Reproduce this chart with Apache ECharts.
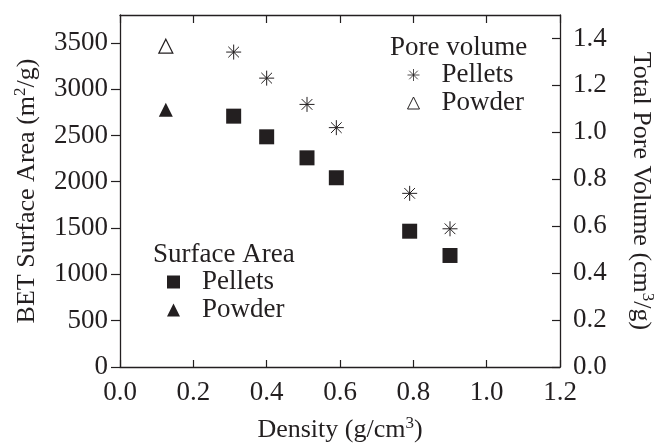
<!DOCTYPE html>
<html>
<head>
<meta charset="utf-8">
<script src="https://cdn.jsdelivr.net/npm/echarts@6/dist/echarts.min.js"></script>
<style>html,body{margin:0;padding:0;background:#fff;}#c{width:658px;height:445px;}</style>
</head>
<body>
<div id="c"></div>
<script>
// ---- data ----
var pelletDensity = [0.31, 0.40, 0.51, 0.59, 0.79, 0.90];
var surfacePellets = [2708, 2485, 2258, 2043, 1466, 1204];
var volumePellets = [1.342, 1.231, 1.119, 1.020, 0.740, 0.589];
var powderDensity = [0.125];
var surfacePowder = [2777];
var volumePowder = [1.367];
var xTicks = [0, 0.2, 0.4, 0.6, 0.8, 1.0, 1.2];
var leftTicks = [0, 500, 1000, 1500, 2000, 2500, 3000, 3500];
var rightTicks = [0, 0.2, 0.4, 0.6, 0.8, 1.0, 1.2, 1.4];

function pairs(xs, ys) { return xs.map(function (x, i) { return [x, ys[i]]; }); }

var INK = '#231f20';
var FONT = 'Liberation Serif';
var ASTER = 'path://M7,0L7,14M0,7L14,7M2,2L12,12M2,12L12,2';
var supRich = {
  a: { fontFamily: FONT, fontSize: 26, color: INK, lineHeight: 30 },
  s: { fontFamily: FONT, fontSize: 17, color: INK, verticalAlign: 'top', lineHeight: 17 }
};
function axisLine() { return { show: true, onZero: false, lineStyle: { color: INK, width: 1.3 } }; }

var chart = echarts.init(document.getElementById('c'), null, { renderer: 'canvas' });
chart.setOption({
  animation: false,
  backgroundColor: '#fff',
  textStyle: { fontFamily: FONT, color: INK },
  grid: { left: 120, right: 98, top: 15, bottom: 78, containLabel: false, outerBoundsMode: 'none' },
  title: [
    { text: 'Pore volume', left: 390, top: 34, padding: 0,
      textStyle: { fontFamily: FONT, fontSize: 27, fontWeight: 'normal', color: INK } },
    { text: 'Surface Area', left: 153, top: 241, padding: 0,
      textStyle: { fontFamily: FONT, fontSize: 27, fontWeight: 'normal', color: INK } }
  ],
  legend: [
    { orient: 'vertical', left: 407, top: 61, padding: 0, itemGap: 0,
      itemWidth: 12, itemHeight: 12,
      data: [
        { name: 'PV Pellets', itemStyle: { color: 'rgba(0,0,0,0)', borderColor: INK, borderWidth: 0.8 } },
        { name: 'PV Powder', itemStyle: { color: '#fff', borderColor: INK, borderWidth: 1 } }
      ],
      formatter: function (n) { return n.split(' ')[1]; },
      textStyle: { fontFamily: FONT, fontSize: 27, color: INK, lineHeight: 28, padding: [0, 0, 0, 17] } },
    { orient: 'vertical', left: 167, top: 268, padding: 0, itemGap: 0,
      itemWidth: 13, itemHeight: 13,
      data: [{ name: 'SA Pellets' }, { name: 'SA Powder' }],
      formatter: function (n) { return n.split(' ')[1]; },
      textStyle: { fontFamily: FONT, fontSize: 27, color: INK, lineHeight: 28, padding: [0, 0, 0, 17] } }
  ],
  xAxis: [
    { type: 'value', position: 'bottom', min: 0, max: 1.2, interval: 0.2,
      name: '{a|Density (g/cm}{s|3}{a|)}', nameLocation: 'middle', nameGap: 48,
      nameTextStyle: { rich: supRich },
      axisLine: axisLine(),
      axisTick: { inside: true, length: 7, lineStyle: { color: INK, width: 1.2 }, customValues: xTicks },
      axisLabel: { margin: 12, fontFamily: FONT, fontSize: 27, color: INK, customValues: xTicks,
        formatter: function (v) { return v.toFixed(1); } },
      splitLine: { show: false } },
    { type: 'value', position: 'top', min: 0, max: 1.2, interval: 0.2,
      axisLine: axisLine(),
      axisTick: { inside: true, length: 8, lineStyle: { color: INK, width: 1.2 }, customValues: xTicks },
      axisLabel: { show: false },
      splitLine: { show: false } }
  ],
  yAxis: [
    { type: 'value', position: 'left', min: 0, max: 3800,
      name: '{a|BET Surface Area (m}{s|2}{a|/g)}', nameLocation: 'middle', nameGap: 78, nameRotate: 90,
      nameTextStyle: { rich: supRich },
      axisLine: axisLine(),
      axisTick: { inside: false, length: 9, lineStyle: { color: INK, width: 1.2 }, customValues: leftTicks },
      axisLabel: { margin: 12, fontFamily: FONT, fontSize: 27, color: INK, customValues: leftTicks,
        formatter: function (v) { return String(v); } },
      splitLine: { show: false } },
    { type: 'value', position: 'right', min: 0, max: 1.5,
      name: '{a|Total Pore Volume (cm}{s|3}{a|/g)}', nameLocation: 'middle', nameGap: 66, nameRotate: -90,
      nameTextStyle: { rich: supRich },
      axisLine: axisLine(),
      axisTick: { inside: true, length: 8, lineStyle: { color: INK, width: 1.2 }, customValues: rightTicks },
      axisLabel: { margin: 13, fontFamily: FONT, fontSize: 27, color: INK, customValues: rightTicks,
        formatter: function (v) { return v.toFixed(1); } },
      splitLine: { show: false } }
  ],
  series: [
    { name: 'SA Pellets', type: 'scatter', xAxisIndex: 0, yAxisIndex: 0,
      symbol: 'rect', symbolSize: 15, itemStyle: { color: INK, opacity: 1 },
      data: pairs(pelletDensity, surfacePellets) },
    { name: 'SA Powder', type: 'scatter', xAxisIndex: 0, yAxisIndex: 0,
      symbol: 'triangle', symbolSize: 14, itemStyle: { color: INK, opacity: 1 },
      data: pairs(powderDensity, surfacePowder) },
    { name: 'PV Pellets', type: 'scatter', xAxisIndex: 0, yAxisIndex: 1,
      symbol: ASTER, symbolSize: 15,
      itemStyle: { color: 'rgba(0,0,0,0)', borderColor: INK, borderWidth: 1, opacity: 1 },
      data: pairs(pelletDensity, volumePellets) },
    { name: 'PV Powder', type: 'scatter', xAxisIndex: 0, yAxisIndex: 1,
      symbol: 'triangle', symbolSize: 14,
      itemStyle: { color: '#fff', borderColor: INK, borderWidth: 1.2, opacity: 1 },
      data: pairs(powderDensity, volumePowder) }
  ]
});
</script>
</body>
</html>
